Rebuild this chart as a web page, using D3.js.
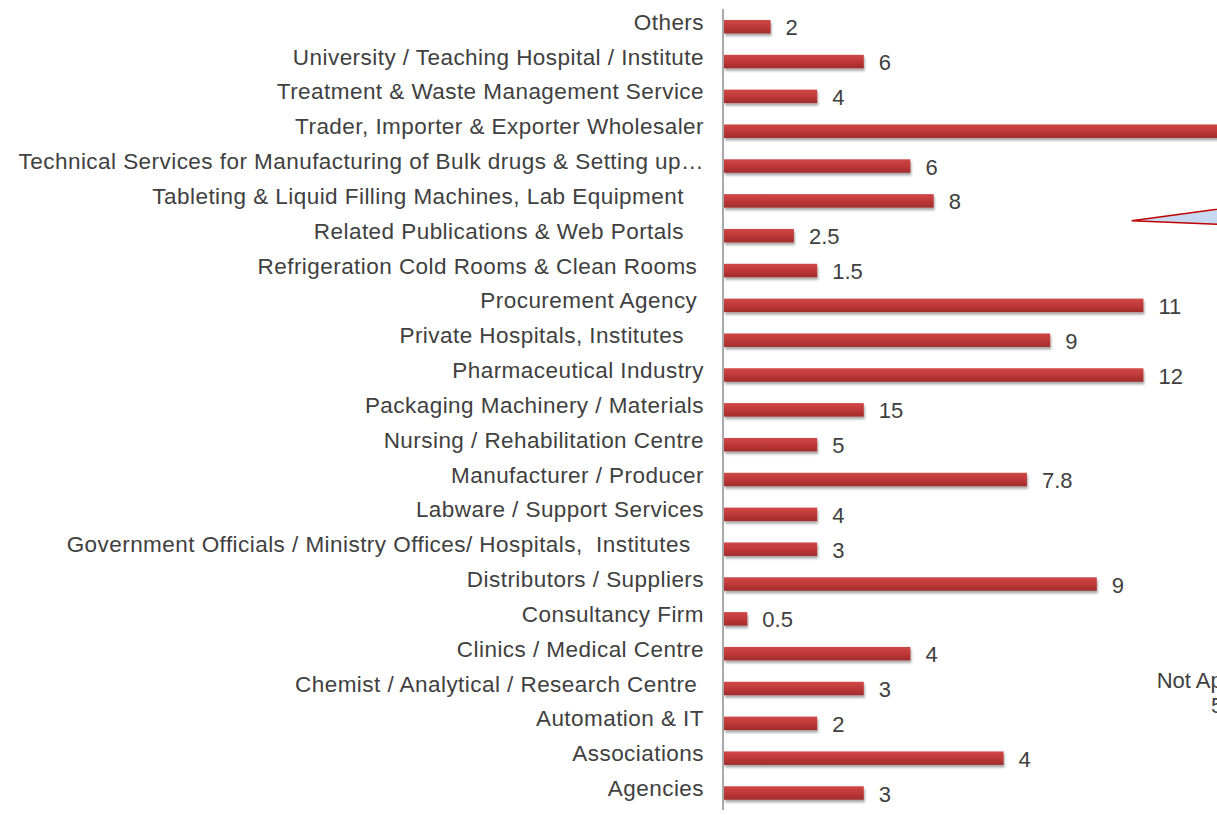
<!DOCTYPE html>
<html>
<head>
<meta charset="utf-8">
<script src="https://cdn.jsdelivr.net/npm/d3@7"></script>
<style>
	body { margin: 0; background: #fff; }
	svg { display: block; font-family: "Liberation Sans", Arial, sans-serif; }
	text { white-space: pre; }
</style>
</head>
<body>
<svg id="chart"></svg>
<script>
// categories (top to bottom)
const categories = [
	"Others",
	"University / Teaching Hospital / Institute",
	"Treatment & Waste Management Service",
	"Trader, Importer & Exporter Wholesaler",
	"Technical Services for Manufacturing of Bulk drugs & Setting up\u2026",
	"Tableting & Liquid Filling Machines, Lab Equipment   ",
	"Related Publications & Web Portals   ",
	"Refrigeration Cold Rooms & Clean Rooms ",
	"Procurement Agency ",
	"Private Hospitals, Institutes   ",
	"Pharmaceutical Industry",
	"Packaging Machinery / Materials",
	"Nursing / Rehabilitation Centre",
	"Manufacturer / Producer",
	"Labware / Support Services",
	"Government Officials / Ministry Offices/ Hospitals,  Institutes  ",
	"Distributors / Suppliers",
	"Consultancy Firm",
	"Clinics / Medical Centre",
	"Chemist / Analytical / Research Centre ",
	"Automation & IT",
	"Associations",
	"Agencies"
];
// bar lengths as drawn
const barValues = [2, 6, 4, 23, 8, 9, 3, 4, 18, 14, 18, 6, 4, 13, 4, 4, 16, 1, 8, 6, 4, 12, 6];
// numbers printed next to the bars
const valueLabels = ["2", "6", "4", "", "6", "8", "2.5", "1.5", "11", "9", "12", "15", "5", "7.8", "4", "3", "9", "0.5", "4", "3", "2", "4", "3"];
// cut-off pie on the right
const pieLabel = "Not Applicable";
const pieValue = "5%";

const width = 1217;
const height = 815;
const textColor = "#404040";

const svg = d3.select("#chart").attr("width", width).attr("height", height);

// gradient + shadow for bars
const defs = svg.append("defs");
const grad = defs.append("linearGradient").attr("id", "barGrad")
	.attr("x1", 0).attr("y1", 0).attr("x2", 0).attr("y2", 1);
grad.append("stop").attr("offset", "0%").attr("stop-color", "#d04848");
grad.append("stop").attr("offset", "50%").attr("stop-color", "#bf3838");
grad.append("stop").attr("offset", "100%").attr("stop-color", "#a02c2c");
const shadow = defs.append("filter").attr("id", "shadow")
	.attr("x", "-5%").attr("y", "-50%").attr("width", "110%").attr("height", "220%");
shadow.append("feDropShadow").attr("dx", 1).attr("dy", 2.5)
	.attr("stdDeviation", 1.3).attr("flood-color", "#000").attr("flood-opacity", 0.35);

// scales
const x = d3.scaleLinear().domain([0, 1]).range([724, 724 + 23.3]);
const y = d3.scalePoint().domain(categories).range([26.7, 793]);
const barH = 13.5;

// pie wedge (partly off-canvas)
const arc = d3.arc().innerRadius(0).outerRadius(300)
	.startAngle(1.438).endAngle(1.613);
svg.append("path")
	.attr("transform", "translate(1131.7,220.7)")
	.attr("d", arc())
	.attr("fill", "#c6d9f1")
	.attr("stroke", "#c00000")
	.attr("stroke-width", 1.5)
	.attr("stroke-linejoin", "miter");

// label of the cut-off pie, clipped by the page edge as in the original
const pieText = svg.append("text")
	.attr("text-anchor", "middle")
	.attr("fill", textColor)
	.style("font-size", "22px");
pieText.append("tspan").attr("x", 1227).attr("y", 688).text(pieLabel);
pieText.append("tspan").attr("x", 1227).attr("y", 713).text(pieValue);

// bars
svg.append("g").selectAll("rect").data(categories).enter()
	.append("rect")
	.attr("x", x(0))
	.attr("y", d => y(d) - barH / 2)
	.attr("width", (d, i) => x(barValues[i]) - x(0))
	.attr("height", barH)
	.attr("fill", "url(#barGrad)")
	.attr("filter", "url(#shadow)");

// axis line
svg.append("line")
	.attr("x1", 723).attr("x2", 723)
	.attr("y1", 9).attr("y2", 810)
	.attr("stroke", "#8c8c8c")
	.attr("stroke-width", 1.5);

// category labels
svg.append("g").selectAll("text").data(categories).enter()
	.append("text")
	.attr("x", 704)
	.attr("y", d => y(d) + 3)
	.attr("text-anchor", "end")
	.attr("fill", textColor)
	.style("font-size", "22.5px")
	.style("letter-spacing", "0.45px")
	.text(d => d);

// value labels
svg.append("g").selectAll("text").data(categories).enter()
	.append("text")
	.attr("x", (d, i) => x(barValues[i]) + 15)
	.attr("y", d => y(d) + 8.5)
	.attr("fill", textColor)
	.style("font-size", "22px")
	.text((d, i) => valueLabels[i]);
</script>
</body>
</html>
